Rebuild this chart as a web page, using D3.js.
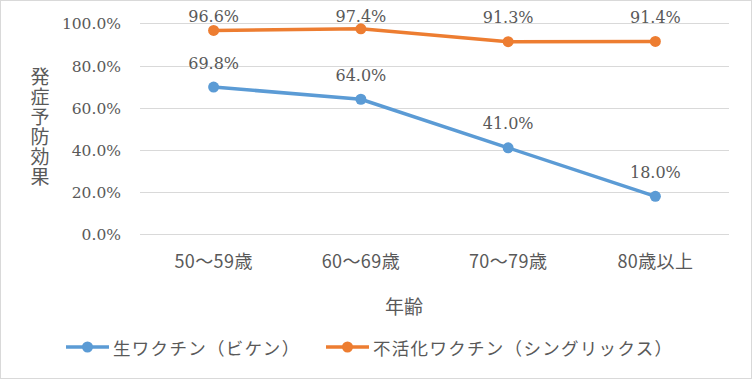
<!DOCTYPE html>
<html><head><meta charset="utf-8">
<script src="https://cdn.jsdelivr.net/npm/d3@7"></script>
<style>body{margin:0;background:#fff}svg{display:block}</style>
</head><body>
<svg id="c" width="752" height="379"></svg>
<script>
const categories = ["50～59歳","60～69歳","70～79歳","80歳以上"];
const liveVaccine = [69.8, 64.0, 41.0, 18.0];
const inactivatedVaccine = [96.6, 97.4, 91.3, 91.4];
const seriesNames = ["生ワクチン（ビケン）","不活化ワクチン（シングリックス）"];
const seriesColors = ["#5B9BD5","#ED7D31"];
const yTicks = [0,20,40,60,80,100];
const yTitle = "発症予防効果";
const xTitle = "年齢";

const svg = d3.select("#c");
const W = 752, H = 379;
svg.append("rect").attr("x",0.5).attr("y",0.5).attr("width",W-1).attr("height",H-1)
  .attr("fill","#fff").attr("stroke","#d9d9d9");

const x = d3.scaleBand().domain(categories).range([140,729]);
const y = d3.scaleLinear().domain([0,100]).range([234.3,23.3]);
const serif = "'DejaVu Serif', serif";
const cjk = "'Noto Sans CJK JP', sans-serif";
const txt = "#595959";

// gridlines
svg.append("g").selectAll("line").data(yTicks).join("line")
  .attr("x1",140).attr("x2",729).attr("y1",d=>Math.round(y(d))+0.5).attr("y2",d=>Math.round(y(d))+0.5)
  .attr("stroke","#d9d9d9").attr("stroke-width",1);

// y axis
const ya = svg.append("g").attr("transform","translate(124,0)")
  .call(d3.axisLeft(y).tickValues(yTicks).tickSize(0).tickFormat(d=>d.toFixed(1)+"%"));
ya.select(".domain").remove();
ya.selectAll("text").attr("font-family",serif).attr("font-size",15.5).attr("fill",txt).attr("dx",0).attr("dy","0.36em");

// x axis
const xa = svg.append("g").attr("transform","translate(0,260)")
  .call(d3.axisBottom(x).tickSize(0).tickPadding(0));
xa.select(".domain").remove();
xa.selectAll("text").attr("font-family",cjk).attr("font-size",18).attr("letter-spacing",0.4)
  .attr("fill",txt).attr("dy",0).attr("dominant-baseline","central");

// titles
svg.append("text").attr("x",404).attr("y",305).attr("text-anchor","middle").attr("dominant-baseline","central")
  .attr("font-family",cjk).attr("font-size",19).attr("fill",txt).text(xTitle);
svg.append("text").attr("x",40).attr("y",127)
  .attr("writing-mode","vertical-rl").attr("text-anchor","middle").attr("dominant-baseline","central")
  .attr("letter-spacing",1)
  .attr("font-family",cjk).attr("font-size",19).attr("fill",txt).text(yTitle);

// series
const series = [liveVaccine, inactivatedVaccine];
const cx = (d,i)=>x(categories[i])+x.bandwidth()/2;
const line = d3.line().x(cx).y(d=>y(d));
series.forEach((vals,si)=>{
  const g = svg.append("g");
  g.append("path").datum(vals).attr("d",line).attr("fill","none")
    .attr("stroke",seriesColors[si]).attr("stroke-width",3.5).attr("stroke-linejoin","round").attr("stroke-linecap","round");
  g.selectAll("circle").data(vals).join("circle")
    .attr("cx",cx).attr("cy",d=>y(d)).attr("r",5.5).attr("fill",seriesColors[si]);
  g.selectAll("text").data(vals).join("text")
    .attr("x",cx).attr("y",d=>Math.max(y(d)-24, 16.5))
    .attr("text-anchor","middle").attr("dominant-baseline","central")
    .attr("font-family",serif).attr("font-size",16).attr("fill",txt).text(d=>d.toFixed(1)+"%");
});

// legend
const legendX = [66, 326];
series.forEach((vals,si)=>{
  const g = svg.append("g").attr("transform",`translate(${legendX[si]},347)`);
  g.append("line").attr("x1",0).attr("x2",43).attr("stroke",seriesColors[si]).attr("stroke-width",3.5);
  g.append("circle").attr("cx",21.5).attr("r",5.5).attr("fill",seriesColors[si]);
  g.append("text").attr("x",47).attr("dominant-baseline","central").attr("font-family",cjk)
    .attr("font-size",17.5).attr("letter-spacing",1.3).attr("fill",txt).text(seriesNames[si]);
});
</script>
</body></html>
